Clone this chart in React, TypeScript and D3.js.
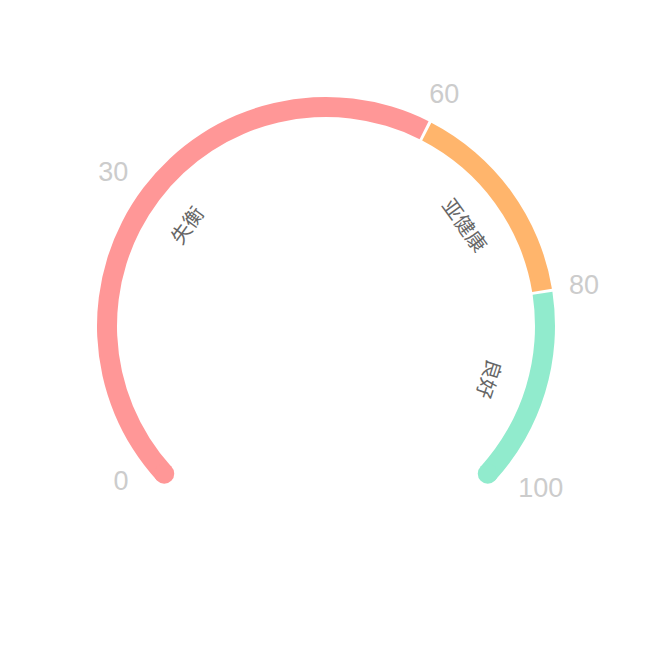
import React, { useRef, useEffect } from 'react';
import * as d3 from 'd3';

// Gauge bands (value ranges) and their labels
const BAND_NAMES = ['失衡', '亚健康', '良好'];
const BAND_STARTS = [0, 60, 80];
const BAND_ENDS = [60, 80, 100];
const BAND_COLORS = ['#ff9797', '#ffb56c', '#91ebcd'];

// Axis tick labels
const TICK_VALUES = [0, 30, 60, 80, 100];

const WIDTH = 652;
const HEIGHT = 652;

export default function App() {
  const svgRef = useRef<SVGSVGElement>(null);

  useEffect(() => {
    document.body.style.margin = '0';
    if (!svgRef.current) return;

    const svg = d3.select(svgRef.current);
    svg.selectAll('*').remove();

    const cx = WIDTH / 2;
    const cy = HEIGHT / 2;
    const outerR = 229;
    const innerR = 209;
    const midR = (outerR + innerR) / 2;
    const capR = (outerR - innerR) / 2;
    const capAngle = capR / midR;
    const gap = 3 / midR;

    // value -> angle (d3 convention: radians clockwise from 12 o'clock)
    const angle = d3.scaleLinear()
      .domain([0, 100])
      .range([-135 * Math.PI / 180, 135 * Math.PI / 180]);

    const g = svg.append('g').attr('transform', `translate(${cx},${cy})`);

    const arc = d3.arc<{ startAngle: number; endAngle: number }>()
      .innerRadius(innerR)
      .outerRadius(outerR);

    const last = BAND_NAMES.length - 1;
    BAND_NAMES.forEach((name, i) => {
      let a0 = angle(BAND_STARTS[i]);
      let a1 = angle(BAND_ENDS[i]);
      a0 += i === 0 ? capAngle : gap / 2;
      a1 -= i === last ? capAngle : gap / 2;

      g.append('path')
        .attr('d', arc({ startAngle: a0, endAngle: a1 }) as string)
        .attr('fill', BAND_COLORS[i]);

      // round caps at the two ends of the gauge
      if (i === 0 || i === last) {
        const a = i === 0 ? a0 : a1;
        g.append('circle')
          .attr('cx', Math.sin(a) * midR)
          .attr('cy', -Math.cos(a) * midR)
          .attr('r', capR)
          .attr('fill', BAND_COLORS[i]);
      }

      // band name, written along the arc
      const am = angle((BAND_STARTS[i] + BAND_ENDS[i]) / 2);
      const lr = midR - 48;
      g.append('text')
        .attr('transform', `translate(${Math.sin(am) * lr},${-Math.cos(am) * lr}) rotate(${am * 180 / Math.PI})`)
        .attr('text-anchor', 'middle')
        .attr('dy', '0.35em')
        .style('font-family', '"Noto Sans CJK SC", sans-serif')
        .style('font-size', '20px')
        .style('fill', '#666666')
        .text(name);
    });

    // tick labels outside the arc; end labels pulled slightly inward
    const [minA, maxA] = angle.range();
    const inset = 8 * Math.PI / 180;
    const fontSize = 27;
    const charW = fontSize * 0.556;
    const textH = fontSize * 0.72;
    const baseR = 245;

    TICK_VALUES.forEach(v => {
      const a = Math.max(minA + inset, Math.min(maxA - inset, angle(v)));
      const sx = Math.sin(a);
      const sy = -Math.cos(a);
      const w = String(v).length * charW;
      const r = baseR + Math.abs(sx) * w / 2 + Math.abs(sy) * textH / 2;
      g.append('text')
        .attr('x', sx * r)
        .attr('y', sy * r)
        .attr('text-anchor', 'middle')
        .attr('dy', '0.34em')
        .style('font-family', '"Liberation Sans", Arial, sans-serif')
        .style('font-size', `${fontSize}px`)
        .style('fill', '#cccccc')
        .text(v);
    });
  }, []);

  return (
    <svg
      ref={svgRef}
      width={WIDTH}
      height={HEIGHT}
      style={{ display: 'block', background: '#ffffff' }}
    />
  );
}
